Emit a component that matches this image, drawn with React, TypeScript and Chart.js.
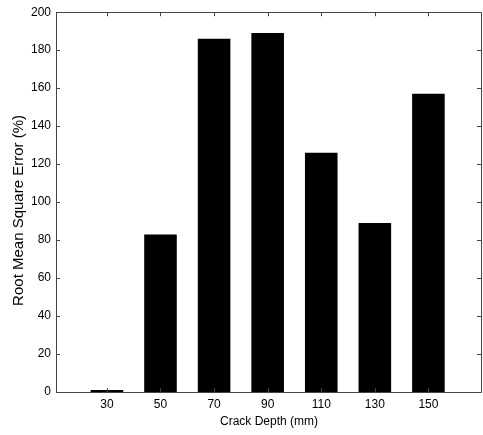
import React, { useEffect, useRef } from "react";
import { Chart, registerables } from "chart.js";

Chart.register(...registerables);

const crackDepths = [30, 50, 70, 90, 110, 130, 150];
const rmsError = [1, 83, 186, 189, 126, 89, 157];
const xTickValues = [30, 50, 70, 90, 110, 130, 150];
const yTickValues = [0, 20, 40, 60, 80, 100, 120, 140, 160, 180, 200];

const frameTicks = {
  id: "frameTicks",
  afterDatasetsDraw(chart: any) {
    const { ctx, chartArea } = chart;
    const { left, right, top, bottom } = chartArea;
    const xs = chart.scales.x;
    const ys = chart.scales.y;
    ctx.save();
    ctx.strokeStyle = "#444";
    ctx.lineWidth = 1;
    ctx.beginPath();
    ctx.rect(Math.round(left) + 0.5, Math.round(top) + 0.5, Math.round(right - left) - 1, Math.round(bottom - top));
    ctx.stroke();
    const t = 4;
    ctx.beginPath();
    for (const v of xTickValues) {
      const px = Math.round(xs.getPixelForValue(v)) + 0.5;
      ctx.moveTo(px, bottom);
      ctx.lineTo(px, bottom - t);
      ctx.moveTo(px, top);
      ctx.lineTo(px, top + t);
    }
    for (const v of yTickValues) {
      const py = Math.round(ys.getPixelForValue(v)) + 0.5;
      ctx.moveTo(left, py);
      ctx.lineTo(left + t, py);
      ctx.moveTo(right - 1, py);
      ctx.lineTo(right - 1 - t, py);
    }
    ctx.stroke();
    ctx.restore();
  },
};

export default function App() {
  const ref = useRef<HTMLCanvasElement>(null);
  useEffect(() => {
    document.body.style.margin = "0";
    const chart = new Chart(ref.current!, {
      type: "bar",
      data: {
        datasets: [
          {
            data: crackDepths.map((x, i) => ({ x, y: rmsError[i] })),
            backgroundColor: "#000",
            borderWidth: 0,
            barPercentage: 0.76,
            categoryPercentage: 0.8,
          },
        ],
      },
      plugins: [frameTicks],
      options: {
        responsive: false,
        animation: false,
        layout: { padding: { top: 12, right: 0, left: 0, bottom: 0 } },
        plugins: { legend: { display: false }, tooltip: { enabled: false } },
        scales: {
          x: {
            type: "linear",
            offset: false,
            min: 11,
            max: 170,
            grid: { display: false, drawTicks: false },
            border: { display: false },
            afterBuildTicks: (s: any) => {
              s.ticks = xTickValues.map((v) => ({ value: v }));
            },
            afterFit: (s: any) => {
              s.height = 43;
            },
            ticks: {
              color: "#000",
              padding: 5,
              maxRotation: 0,
              font: { family: "Liberation Sans, Arial, sans-serif", size: 12 },
            },
            title: {
              display: true,
              text: "Crack Depth (mm)",
              color: "#000",
              padding: { top: 0, bottom: 6 },
              font: { family: "Liberation Sans, Arial, sans-serif", size: 12 },
            },
          },
          y: {
            min: 0,
            max: 200,
            grid: { display: false, drawTicks: false },
            border: { display: false },
            afterBuildTicks: (s: any) => {
              s.ticks = yTickValues.map((v) => ({ value: v }));
            },
            afterFit: (s: any) => {
              s.width = 56;
            },
            ticks: {
              color: "#000",
              padding: 5,
              font: { family: "Liberation Sans, Arial, sans-serif", size: 12 },
            },
            title: {
              display: true,
              text: "Root Mean Square Error (%)    ",
              color: "#000",
              padding: { top: 10, bottom: 0 },
              font: { family: "Liberation Sans, Arial, sans-serif", size: 15 },
            },
          },
        },
      },
    });
    return () => chart.destroy();
  }, []);
  return (
    <div style={{ position: "fixed", left: 0, top: 0, width: 483, height: 435 }}>
      <canvas ref={ref} width={482} height={435} style={{ width: 482, height: 435 }} />
    </div>
  );
}
